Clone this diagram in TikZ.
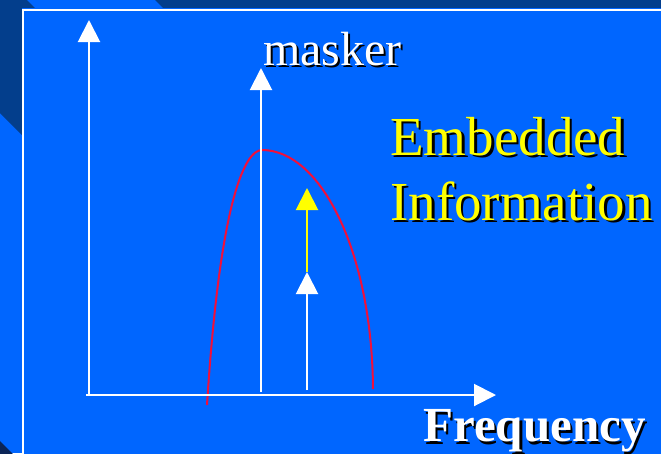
\documentclass[tikz,border=0pt]{standalone}
\usepackage{fontspec}
\setmainfont{Liberation Serif}
\usetikzlibrary{arrows.meta}
\definecolor{bg}{HTML}{0066FF}
\definecolor{dk}{HTML}{033E8C}
\definecolor{dkk}{HTML}{0B2557}
\definecolor{crv}{HTML}{F0103C}
\definecolor{ylw}{HTML}{FFFF00}
\begin{document}
\begin{tikzpicture}[x=1pt,y=-1pt,
  axline/.style={white,line width=2pt,-{Triangle[length=22pt,width=22pt]}},
  yline/.style={ylw,line width=2pt,-{Triangle[length=22pt,width=22pt]}},
  lbl/.style={inner sep=0pt,anchor=base west},
  shad/.style={lbl,black}]
\useasboundingbox (0,0) rectangle (661,453);
\clip (0,0) rectangle (661,453);
% background
\fill[bg] (0,0) rectangle (661,453);
\fill[dk] (0,0) -- (27,0) -- (627,600) -- (487,600) -- (0,113) -- cycle;
\fill[dk] (155,0) -- (700,0) -- (700,545) -- cycle;
\fill[dkk] (0,441) -- (0,460) -- (19,460) -- cycle;
\fill[bg] (22,8) rectangle (700,500);
\draw[white,line width=2pt] (23,10) rectangle (700,500);
% coordinates
\coordinate (yb) at (89,396);
\coordinate (yt) at (89,20);
\coordinate (xb) at (86,395);
\coordinate (xt) at (496,395);
\coordinate (mb) at (261,392);
\coordinate (mt) at (261,68);
\coordinate (eb) at (307,390);
\coordinate (em) at (307,272);
\coordinate (et) at (307,188);
\coordinate (c0) at (207,405);
\coordinate (cp) at (262,150);
\coordinate (c1) at (373,389);
% masking curve
\draw[crv,line width=2pt] (c0) .. controls (220,200) and (245,150) .. (cp)
  .. controls (320,150) and (372,250) .. (c1);
% axes
\draw[axline] (yb) -- (yt);
\draw[axline] (xb) -- (xt);
% masker and embedded arrows
\draw[axline] (mb) -- (mt);
\draw[yline] (em) -- (et);
\draw[axline] (eb) -- (em);
% labels
\node[shad] (maskersh) at (265,67) {\fontsize{48}{48}\selectfont masker};
\node[lbl,white] (masker) at (263,65) {\fontsize{48}{48}\selectfont masker};
\node[shad] (embsh) at (392.5,157.5) {\fontsize{55}{55}\selectfont Embedded};
\node[lbl,ylw] (emb) at (390,155) {\fontsize{55}{55}\selectfont Embedded};
\node[shad] (infsh) at (392.5,222.5) {\fontsize{55}{55}\selectfont Information};
\node[lbl,ylw] (inf) at (390,220) {\fontsize{55}{55}\selectfont Information};
\node[shad] (freqsh) at (425.5,444) {\fontsize{49}{49}\selectfont\bfseries Frequency};
\node[lbl,white] (freq) at (423,441.5) {\fontsize{49}{49}\selectfont\bfseries Frequency};
\end{tikzpicture}
\end{document}
